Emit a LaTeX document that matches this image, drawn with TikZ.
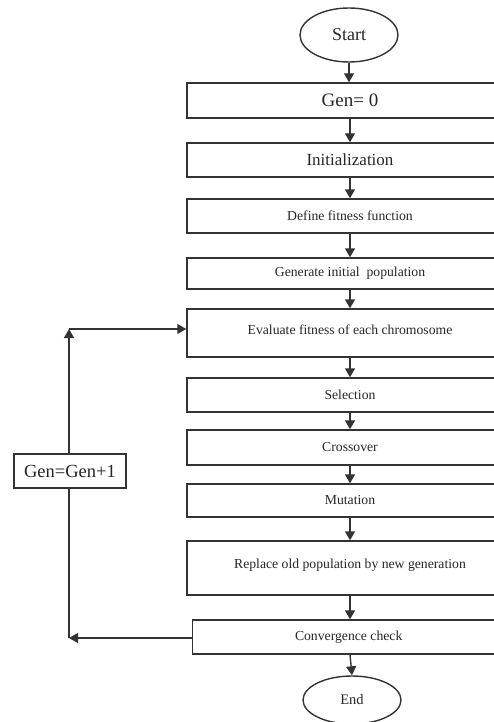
\documentclass[tikz,border=0pt]{standalone}
\usepackage{fontspec}
\setmainfont{Liberation Serif}
\usetikzlibrary{shapes.geometric,arrows.meta}
\begin{document}
\begin{tikzpicture}[x=1pt,y=-1pt,
  ln/.style={draw=black!80,line width=1.4pt},
  arr/.style={ln,-{Triangle[width=10pt,length=9pt]}},
  stepbox/.style={ln,rectangle,minimum width=326pt,inner sep=0pt,text=black!85,font=\fontsize{13.7}{16}\selectfont},
  oval/.style={ln,ellipse,minimum width=98pt,inner sep=0pt,text=black!85},
  smallbox/.style={ln,rectangle,fill=white,inner sep=0pt,text=black!85}]
\useasboundingbox (0,0) rectangle (494,722);
\clip (0,0) rectangle (494,722);
\node[oval,minimum height=54pt,font=\fontsize{18}{20}\selectfont] (start) at (349,35) {Start};
\node[stepbox,minimum height=35pt,font=\fontsize{19}{22}\selectfont] (gen0) at (350,100.5) {Gen= 0};
\node[stepbox,minimum height=34pt,font=\fontsize{17}{20}\selectfont] (init) at (350,160) {Initialization};
\node[stepbox,minimum height=34pt] (fit) at (350,216) {Define fitness function};
\node[stepbox,minimum height=31pt] (genpop) at (350,273.5) {Generate initial\ \ population};
\node[stepbox,minimum height=48pt] (eval) at (350,333) {\raisebox{6pt}{Evaluate fitness of each chromosome}};
\node[stepbox,minimum height=34pt] (sel) at (350,395) {Selection};
\node[stepbox,minimum height=35pt] (cross) at (350,447.5) {Crossover};
\node[stepbox,minimum height=33pt] (mut) at (350,500.5) {Mutation};
\node[stepbox,minimum height=54pt] (repl) at (350,568) {\raisebox{8pt}{Replace old population by new generation}};
\node[stepbox,minimum height=34pt,minimum width=312pt,anchor=west] (conv) at (192,637) {Convergence check};
\node[oval,minimum height=48pt,font=\fontsize{14.5}{17}\selectfont] (end) at (352,700) {End};
\node[smallbox,minimum width=112pt,minimum height=34pt,font=\fontsize{18.5}{21}\selectfont] (gen1) at (70,471) {Gen=Gen+1};
\coordinate (c1) at (69,638);
\coordinate (c2) at (69,329);
\draw[arr] (start.south) -- (start.south |- gen0.north);
\draw[arr] (gen0.south) -- (init.north);
\draw[arr] (init.south) -- (fit.north);
\draw[arr] (fit.south) -- (genpop.north);
\draw[arr] (genpop.south) -- (eval.north);
\draw[arr] (eval.south) -- (sel.north);
\draw[arr] (sel.south) -- (cross.north);
\draw[arr] (cross.south) -- (mut.north);
\draw[arr] (mut.south) -- (repl.north);
\draw[arr] (repl.south) -- (repl.south |- conv.north);
\draw[arr] (repl.south |- conv.south) -- (end.north);
\draw[arr] (conv.west |- c1) -- (c1);
\draw[ln] (c1) -- (gen1.south -| c1);
\draw[arr] (gen1.north -| c1) -- (c2);
\draw[arr] (c2) -- (c2 -| eval.west);
\end{tikzpicture}
\end{document}
